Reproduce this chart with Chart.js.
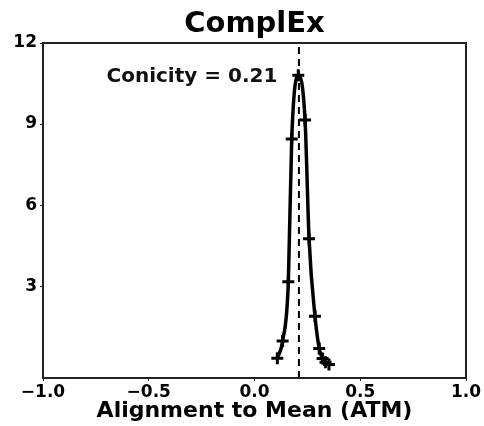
<!DOCTYPE html>
<html>
<head>
<meta charset="utf-8">
<script src="https://cdn.jsdelivr.net/npm/chart.js@4"></script>
<style>
  html, body { margin: 0; padding: 0; background: #fff; }
  #wrap { width: 484px; height: 426px; }
</style>
</head>
<body>
<div id="wrap"><canvas id="atmChart"></canvas></div>
<script>
  // data
  var atmValues = [0.108, 0.133, 0.160, 0.176, 0.207, 0.239, 0.258, 0.286, 0.306, 0.322, 0.336, 0.352];
  var densityValues = [0.33, 0.97, 3.16, 8.45, 10.81, 9.15, 4.75, 1.89, 0.69, 0.32, 0.18, 0.10];
  var meanAtm = 0.21;
  var yTicks = [3, 6, 9, 12];
  var xTicks = [-1.0, -0.5, 0.0, 0.5, 1.0];
  var conicityLabel = "Conicity = 0.21";
  var chartTitle = "ComplEx";

  var curve = atmValues.map(function (x, i) { return { x: x, y: densityValues[i] }; });

  var frame = {
    id: 'frame',
    afterDraw: function (chart) {
      var c = chart.ctx, a = chart.chartArea;
      c.save();
      c.strokeStyle = '#222';
      c.lineWidth = 2;
      c.strokeRect(a.left, a.top, a.right - a.left, a.bottom - a.top);
      c.fillStyle = '#000';
      c.textBaseline = 'middle';
      // title, centred over the plot area
      c.font = 'bold 29px "DejaVu Sans"';
      c.textAlign = 'center';
      c.fillText(chartTitle, (a.left + a.right) / 2, 24);
      // annotation
      c.fillStyle = '#111';
      c.font = 'bold 20px "DejaVu Sans"';
      c.textAlign = 'right';
      c.fillText(conicityLabel, chart.scales.x.getPixelForValue(0.108), chart.scales.y.getPixelForValue(10.75));
      c.restore();
    }
  };

  var ctx = document.getElementById("atmChart").getContext('2d');
  var chart = new Chart(ctx, {
    type: 'scatter',
    data: {
      datasets: [{
        data: curve,
        showLine: true,
        borderColor: '#000',
        backgroundColor: '#000',
        borderWidth: 3.5,
        cubicInterpolationMode: 'monotone',
        pointStyle: 'cross',
        pointRadius: 6,
        pointBorderWidth: 3,
        pointHoverRadius: 6
      }, {
        data: [{ x: meanAtm, y: -0.4 }, { x: meanAtm, y: 12 }],
        showLine: true,
        borderColor: '#000',
        borderWidth: 2,
        borderDash: [7, 5],
        pointRadius: 0
      }]
    },
    options: {
      responsive: true,
      maintainAspectRatio: false,
      animation: false,
      layout: { padding: { left: 0, right: 18, top: 43, bottom: 2 } },
      plugins: {
        legend: { display: false },
        tooltip: { enabled: false },
        title: { display: false }
      },
      scales: {
        x: {
          type: 'linear',
          min: -1, max: 1,
          afterBuildTicks: function (s) { s.ticks = xTicks.map(function (v) { return { value: v }; }); },
          afterFit: function (s) { s.height = 46; },
          grid: { display: true, drawOnChartArea: false, drawTicks: true, tickLength: 3, color: '#222' },
          border: { display: false },
          ticks: {
            color: '#000',
            padding: 1,
            maxRotation: 0,
            font: { family: 'DejaVu Sans', size: 17, weight: 'bold' },
            callback: function (v) { return (v < 0 ? '\u2212' : '') + Math.abs(v).toFixed(1); }
          },
          title: {
            display: true,
            text: 'Alignment to Mean (ATM)',
            color: '#000',
            padding: { top: 0, bottom: 0 },
            font: { family: 'DejaVu Sans', size: 22, weight: 'bold' }
          }
        },
        y: {
          type: 'linear',
          min: -0.4, max: 12,
          afterBuildTicks: function (s) { s.ticks = yTicks.map(function (v) { return { value: v }; }); },
          afterFit: function (s) { s.width = 43; },
          grid: { display: true, drawOnChartArea: false, drawTicks: true, tickLength: 3, color: '#222' },
          border: { display: false },
          ticks: {
            color: '#000',
            padding: 3,
            font: { family: 'DejaVu Sans', size: 17, weight: 'bold' }
          }
        }
      }
    },
    plugins: [frame]
  });
</script>
</body>
</html>
